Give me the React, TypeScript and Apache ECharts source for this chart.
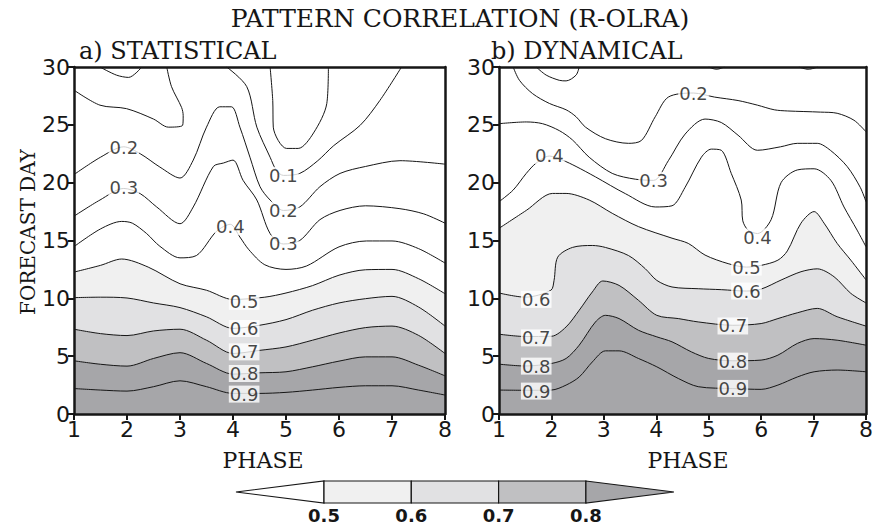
import React, { useEffect, useRef } from 'react';
import * as echarts from 'echarts';

type P = [number, number];
type L = [number, number, string];

// axis ticks
const phaseMin = 1;
const phaseMax = 8;
const dayMin = 0;
const dayMax = 30;
const dayStep = 5;

// shading levels and colours
const shadeLevels = ['0.5', '0.6', '0.7', '0.8'];
const shadeColors = ['#f0f0f0', '#e1e1e3', '#c0c0c2', '#a6a6a9'];

// ---------- a) STATISTICAL : contour lines (phase, forecast day) ----------
const stat09: P[] = [[1,2.2],[1.5,2.07],[2,1.98],[2.5,2.36],[3,2.87],[3.5,2.36],[4,1.78],[4.5,1.78],[5,1.87],[5.5,2.07],[6,2.3],[6.5,2.44],[7,2.44],[7.5,2.07],[8,1.64]];
const stat08: P[] = [[1,4.6],[1.5,4.3],[2,4.14],[2.5,4.8],[3,5.3],[3.5,4.37],[4,3.45],[4.5,3.56],[5,3.65],[5.5,4.08],[6,4.57],[6.5,4.94],[7,4.94],[7.5,4.22],[8,3.3]];
const stat07: P[] = [[1,7.33],[1.5,6.95],[2,6.78],[2.5,7.18],[3,7.33],[3.5,6.38],[4,5.23],[4.5,5.5],[5,5.8],[5.5,6.38],[6,7.0],[6.5,7.47],[7,7.6],[7.5,6.8],[8,5.23]];
const stat06: P[] = [[1,10.06],[1.5,10.1],[2,10.03],[2.5,9.6],[3,9.2],[3.5,8.4],[4,7.4],[4.5,7.67],[5,8.16],[5.5,8.97],[6,9.6],[6.5,9.97],[7,10.17],[7.5,9.25],[8,7.6]];
const stat05: P[] = [[1,12.27],[1.5,12.85],[1.9,13.4],[2.4,12.7],[3,11.26],[3.5,10.7],[4,9.9],[4.6,10.1],[5,10.46],[5.5,11.1],[6,12.0],[6.5,12.47],[7,12.5],[7.5,11.7],[8,10.4]];
const stat04: P[] = [[1,14.47],[1.5,16.0],[1.9,16.65],[2.1,16.5],[2.37,15.6],[2.62,14.5],[3,13.5],[3.31,13.7],[3.69,15.8],[3.95,16.4],[4.13,15.3],[4.3,14.2],[4.6,12.9],[5,12.5],[5.39,12.8],[6,14.45],[6.52,14.96],[7,14.96],[7.5,14.3],[8,13.05]];
const stat03: P[] = [[1,17.1],[1.49,18.5],[1.94,19.5],[2.25,19.05],[2.56,17.9],[3,16.45],[3.25,17.9],[3.63,21.4],[3.82,21.7],[4,21.95],[4.19,20.2],[4.45,18.5],[4.7,15.6],[4.95,14.7],[5.26,15.0],[5.64,16.8],[6.02,17.6],[6.5,18.0],[7.15,17.75],[7.6,17.3],[8,16.5]];
const stat02: P[] = [[1,20.7],[1.5,22.2],[1.94,23.1],[2.25,22.5],[2.62,21.35],[3,20.4],[3.25,21.95],[3.5,24.8],[3.75,26.56],[3.97,26.56],[4.13,24.8],[4.32,22.2],[4.51,19.65],[4.7,18.5],[4.95,17.6],[5.26,17.9],[5.64,19.65],[6.02,20.8],[6.5,21.4],[7.15,21.9],[8,21.6]];
const stat01a: P[] = [[1,28.0],[1.49,26.7],[1.99,26.4],[2.5,25.5],[2.78,24.8],[3.05,24.96],[3.06,25.8],[3.03,26.5],[2.84,28.3],[2.75,30]];
const stat01b: P[] = [[3.88,30],[4.26,28.3],[4.45,24.8],[4.7,22.2],[4.82,21.05],[4.95,20.63],[5.26,20.8],[5.6,21.9],[5.9,23.2],[6.4,24.96],[6.77,27.1],[7.18,30]];
const stat00a: P[] = [[1.49,30],[1.8,29.3],[2.03,29.1],[2.28,30]];
const stat00b: P[] = [[4.7,30],[4.75,27.1],[4.76,24.8],[5.01,22.96],[5.23,22.96],[5.52,24.3],[5.77,26.85],[5.8,30]];
const statLabels: L[] = [[1.94,23.08,'0.2'],[1.94,19.54,'0.3'],[4.95,20.63,'0.1'],[4.95,17.6,'0.2'],[3.95,16.2,'0.4'],[4.95,14.7,'0.3'],[4.21,9.74,'0.5'],[4.21,7.39,'0.6'],[4.21,5.37,'0.7'],[4.21,3.5,'0.8'],[4.21,1.72,'0.9']];

// ---------- b) DYNAMICAL : contour lines (phase, forecast day) ----------
const dyn09: P[] = [[1,2.07],[1.5,2.05],[2,2.07],[2.28,2.5],[2.53,3.2],[2.78,4.5],[3.03,5.46],[3.29,5.46],[3.66,4.8],[4.01,4.08],[4.42,3.07],[4.8,2.36],[5.46,2.2],[6,2.13],[6.32,2.5],[6.69,3.2],[7.01,3.65],[7.45,3.8],[8,3.65]];
const dyn08: P[] = [[1,4.31],[1.5,4.15],[2,4.37],[2.28,4.8],[2.53,5.95],[2.84,7.96],[3.03,8.53],[3.29,8.25],[3.66,7.24],[4.01,6.67],[4.3,6.24],[4.67,5.37],[5,4.8],[5.46,4.6],[6,4.66],[6.32,5.09],[6.69,6.1],[7.01,6.52],[7.45,6.38],[8,5.95]];
const dyn07: P[] = [[1,6.9],[1.5,6.7],[2,6.72],[2.28,7.53],[2.53,8.97],[2.78,10.55],[2.98,11.5],[3.29,11.12],[3.66,9.83],[4.01,8.53],[4.42,8.25],[4.8,7.96],[5.46,7.67],[6,7.82],[6.32,8.25],[6.69,8.75],[7.07,9.13],[7.45,8.41],[8,7.6]];
const dyn06: P[] = [[1,10.46],[1.5,10.1],[1.99,10.7],[2.05,11.55],[2.12,13.56],[2.4,14.4],[2.78,14.57],[3.03,14.4],[3.47,13.7],[3.79,12.56],[4.01,11.55],[4.3,10.98],[4.8,10.83],[5.24,10.75],[5.72,10.63],[6,10.8],[6.38,11.58],[6.76,12.3],[7.07,12.55],[7.39,11.87],[7.71,10.43],[8,9.6]];
const dyn05: P[] = [[1,16.05],[1.52,17.6],[2.02,19.07],[2.28,19.07],[2.72,18.5],[3.16,17.35],[3.66,16.2],[4.3,15.2],[4.61,14.75],[4.93,13.74],[5.37,13.0],[5.72,12.7],[6,12.85],[6.32,13.3],[6.5,14.1],[6.76,16.5],[7.01,17.5],[7.2,16.5],[7.45,14.75],[7.71,13.3],[8,11.6]];
const dyn04: P[] = [[1,18.35],[1.27,19.36],[1.52,20.8],[1.71,21.7],[1.96,22.3],[2.21,21.95],[2.47,21.4],[2.84,20.5],[3.41,19.05],[3.98,17.9],[4.3,18.0],[4.55,19.6],[4.86,22.2],[5.05,22.9],[5.24,22.8],[5.43,20.8],[5.62,18.5],[5.65,16.7],[5.75,15.9],[5.93,15.6],[6.19,16.8],[6.38,20.0],[6.69,21.1],[7.01,21.2],[7.33,20.2],[7.58,17.9],[7.83,15.9],[8,14.46]];
const dyn03: P[] = [[1,25.1],[1.52,25.25],[1.83,25.1],[2.15,24.5],[2.4,23.7],[2.72,22.2],[3.16,20.8],[3.6,20.3],[3.95,20.2],[4.23,21.9],[4.55,24.2],[4.93,25.5],[5.24,25.2],[5.56,24.1],[5.93,22.8],[6.37,23.1],[6.69,23.4],[7.07,23.4],[7.32,22.8],[7.64,21.4],[7.89,19.6],[8,18.35]];
const dyn02: P[] = [[1.27,30],[1.39,28.85],[1.64,27.7],[1.96,26.85],[2.28,26.3],[2.47,25.7],[2.65,24.8],[3.03,23.8],[3.47,23.4],[3.72,23.66],[3.98,25.7],[4.23,27.4],[4.71,27.75],[5.11,27.4],[5.56,27.1],[5.93,26.7],[6.25,26.3],[6.5,26.2],[7.13,26.1],[7.45,26.0],[7.77,25.4],[8,24.4]];
const dyn01a: P[] = [[1.71,30],[1.9,29.3],[2.15,28.85],[2.28,28.8],[2.47,29.3],[2.53,30]];
const dyn01b: P[] = [[5.0,30],[5.15,29.8],[5.3,30]];
const dyn01c: P[] = [[6.72,30],[6.9,29.8],[7.08,30]];
const dynLabels: L[] = [[1.96,22.36,'0.4'],[4.71,27.75,'0.2'],[3.95,20.2,'0.3'],[5.93,15.3,'0.4'],[5.72,12.7,'0.5'],[5.72,10.63,'0.6'],[1.71,9.91,'0.6'],[1.71,6.58,'0.7'],[1.71,4.14,'0.8'],[1.71,1.98,'0.9'],[5.46,7.61,'0.7'],[5.46,4.57,'0.8'],[5.46,2.21,'0.9']];

const SANS = '"DejaVu Sans", "Liberation Sans", sans-serif';
const SERIF = '"DejaVu Serif", serif';
const INK = '#161616';

function contour(data: P[], g: number, fill?: string) {
  return {
    type: 'line',
    xAxisIndex: g,
    yAxisIndex: g,
    data,
    smooth: 0.3,
    symbol: 'none',
    showSymbol: false,
    silent: true,
    lineStyle: { color: INK, width: 1 },
    areaStyle: fill ? { color: fill, opacity: 1 } : undefined,
    z: fill ? 2 : 3,
  };
}

function labels(data: L[], g: number) {
  return {
    type: 'scatter',
    xAxisIndex: g,
    yAxisIndex: g,
    data,
    symbolSize: 1,
    silent: true,
    itemStyle: { color: 'rgba(0,0,0,0)' },
    label: {
      show: true,
      position: 'inside',
      formatter: (p: any) => p.data[2],
      fontFamily: SANS,
      fontSize: 18,
      color: INK,
      backgroundColor: '#ffffff',
      padding: [0, 1, -1, 1],
    },
    z: 6,
  };
}

function xAx(g: number, top: boolean) {
  return {
    type: 'value',
    gridIndex: g,
    min: phaseMin,
    max: phaseMax,
    interval: 1,
    position: top ? 'top' : 'bottom',
    z: 10,
    axisLine: { show: true, onZero: false, lineStyle: { color: INK, width: 2.5 } },
    axisTick: { show: !top, length: 6, lineStyle: { color: INK, width: 2 } },
    axisLabel: { show: !top, fontFamily: SANS, fontSize: 22, color: INK, margin: 4 },
    splitLine: { show: false },
  };
}
function yAx(g: number, right: boolean) {
  return {
    type: 'value',
    gridIndex: g,
    min: dayMin,
    max: dayMax,
    interval: dayStep,
    position: right ? 'right' : 'left',
    z: 10,
    axisLine: { show: true, onZero: false, lineStyle: { color: INK, width: 2.5 } },
    axisTick: { show: !right, length: 6, lineStyle: { color: INK, width: 2 } },
    axisLabel: { show: !right, fontFamily: SANS, fontSize: 22, color: INK, margin: 4 },
    splitLine: { show: false },
  };
}

// colour bar geometry (pixels)
const cbLeft = 236;
const cbBoxStart = 324;
const cbBoxW = 87.3;
const cbTop = 481;
const cbH = 22;

function colorBar() {
  const els: any[] = [];
  const mid = cbTop + cbH / 2;
  const nBoxes = shadeLevels.length - 1;
  const boxEnd = cbBoxStart + nBoxes * cbBoxW;
  els.push({
    type: 'polygon',
    shape: { points: [[cbLeft, mid], [cbBoxStart, cbTop], [cbBoxStart, cbTop + cbH]] },
    style: { fill: '#ffffff', stroke: INK, lineWidth: 1.2 },
  });
  for (let i = 0; i < nBoxes; i++) {
    els.push({
      type: 'rect',
      shape: { x: cbBoxStart + i * cbBoxW, y: cbTop, width: cbBoxW, height: cbH },
      style: { fill: shadeColors[i], stroke: INK, lineWidth: 1.2 },
    });
  }
  els.push({
    type: 'polygon',
    shape: { points: [[boxEnd, cbTop], [boxEnd + (cbBoxStart - cbLeft), mid], [boxEnd, cbTop + cbH]] },
    style: { fill: shadeColors[shadeColors.length - 1], stroke: INK, lineWidth: 1.2 },
  });
  shadeLevels.forEach((lv, i) => {
    els.push({
      type: 'text',
      x: cbBoxStart + i * cbBoxW,
      y: 515,
      style: { text: lv, fontFamily: SANS, fontSize: 18, fontWeight: 'bold', fill: INK, align: 'center', verticalAlign: 'middle' },
    });
  });
  return els;
}

export default function App() {
  const ref = useRef<HTMLDivElement>(null);
  useEffect(() => {
    if (!ref.current) return;
    const chart = echarts.init(ref.current, null, { renderer: 'svg' });
    const statFills = [stat05, stat06, stat07, stat08];
    const dynFills = [dyn05, dyn06, dyn07, dyn08];
    const series: any[] = [];
    statFills.forEach((d, i) => series.push(contour(d, 0, shadeColors[i])));
    dynFills.forEach((d, i) => series.push(contour(d, 1, shadeColors[i])));
    [stat09, stat04, stat03, stat02, stat01a, stat01b, stat00a, stat00b].forEach((d) => series.push(contour(d, 0)));
    [dyn09, dyn04, dyn03, dyn02, dyn01a, dyn01b, dyn01c].forEach((d) => series.push(contour(d, 1)));
    series.push(labels(statLabels, 0));
    series.push(labels(dynLabels, 1));

    const textStyle = (text: string, size: number) => ({ text, fontFamily: SERIF, fontSize: size, fill: INK });

    chart.setOption({
      animation: false,
      backgroundColor: '#ffffff',
      grid: [
        { left: 74, top: 67, width: 371, height: 347, show: true, backgroundColor: '#ffffff', borderWidth: 0 },
        { left: 499, top: 67, width: 370, height: 347, show: true, backgroundColor: '#ffffff', borderWidth: 0 },
      ],
      xAxis: [xAx(0, false), xAx(1, false), xAx(0, true), xAx(1, true)],
      yAxis: [yAx(0, false), yAx(1, false), yAx(0, true), yAx(1, true)],
      series,
      graphic: [
        { type: 'text', x: 460, y: 18, style: { ...textStyle('PATTERN CORRELATION (R-OLRA)', 25), align: 'center', verticalAlign: 'middle' } },
        { type: 'text', x: 79, y: 51, style: { ...textStyle('a) STATISTICAL', 24), align: 'left', verticalAlign: 'middle' } },
        { type: 'text', x: 491, y: 51, style: { ...textStyle('b) DYNAMICAL', 24), align: 'left', verticalAlign: 'middle' } },
        { type: 'text', x: 263, y: 460, style: { ...textStyle('PHASE', 22), align: 'center', verticalAlign: 'middle' } },
        { type: 'text', x: 688, y: 460, style: { ...textStyle('PHASE', 22), align: 'center', verticalAlign: 'middle' } },
        { type: 'text', x: 28, y: 232, rotation: Math.PI / 2, style: { ...textStyle('FORECAST DAY', 20), align: 'center', verticalAlign: 'middle' } },
        ...colorBar(),
      ],
    });
    return () => chart.dispose();
  }, []);
  return (
    <div
      ref={ref}
      style={{ position: 'fixed', left: 0, top: 0, width: 876, height: 524, background: '#ffffff' }}
    />
  );
}
